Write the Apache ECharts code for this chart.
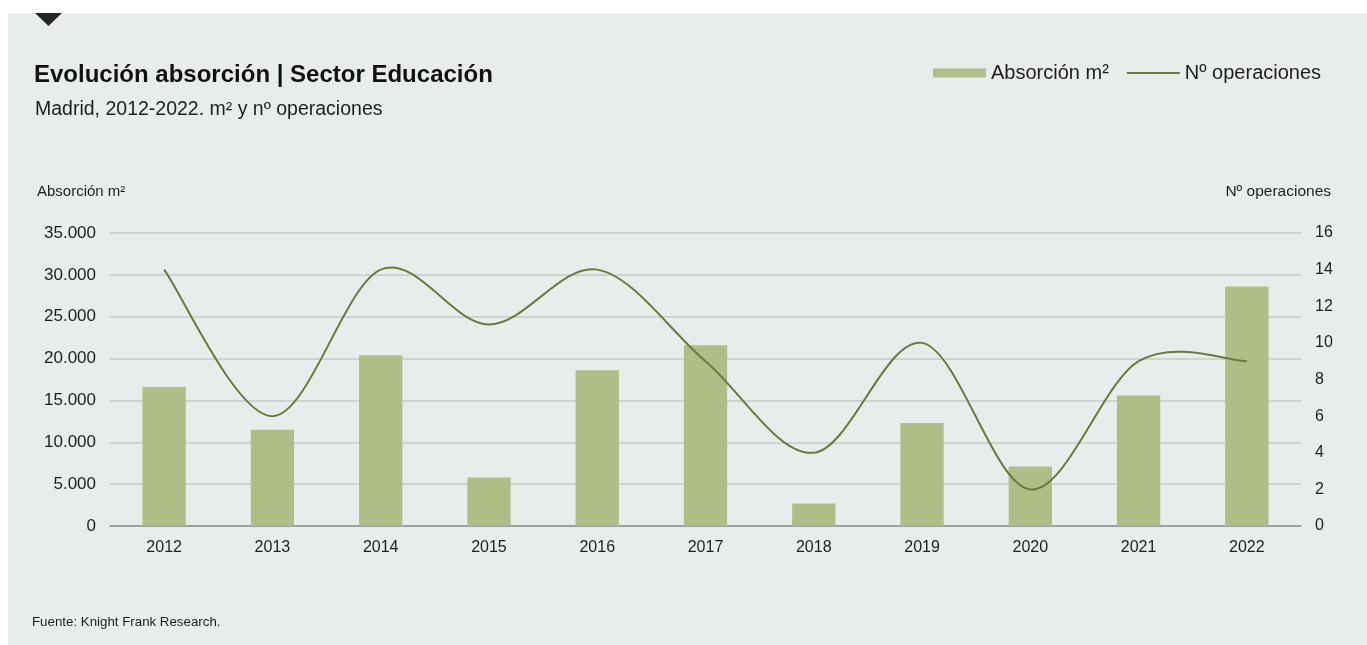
<!DOCTYPE html>
<html>
<head>
<meta charset="utf-8">
<title>Evolución absorción | Sector Educación</title>
<script src="https://cdn.jsdelivr.net/npm/echarts@6/dist/echarts.min.js"></script>
<style>
  html, body { margin: 0; padding: 0; background: #ffffff; }
  #chart { width: 1367px; height: 645px; }
</style>
</head>
<body>
<div id="chart"></div>
<script>
// Años de la serie
const years = ['2012', '2013', '2014', '2015', '2016', '2017', '2018', '2019', '2020', '2021', '2022'];
// Absorción anual en m²
const absorcion = [16600, 11500, 20400, 5800, 18600, 21600, 2700, 12300, 7100, 15600, 28600];
// Número de operaciones por año
const operaciones = [14, 6, 14, 11, 14, 9, 4, 10, 2, 9, 9];

const FONT = '"Liberation Sans", Arial, sans-serif';
const TEXT = '#1e1e1e';
const BAR = '#b0bd87';
const LINE = '#6a7a3a';

// 35000 -> "35.000"
function miles(v) {
  return String(v).replace(/\B(?=(\d{3})+(?!\d))/g, '.');
}

// Curva suavizada tipo spline cardinal: cada punto dibuja el tramo hasta el siguiente,
// con puntos de control a 1/6 de la cuerda entre sus vecinos.
function renderTramo(params, api) {
  const i = params.dataIndex;
  const n = operaciones.length;
  if (i >= n - 1) return null;
  const p = k => {
    const j = Math.max(0, Math.min(n - 1, k));
    return api.coord([j, operaciones[j]]);
  };
  const p0 = p(i - 1), p1 = p(i), p2 = p(i + 1), p3 = p(i + 2);
  return {
    type: 'bezierCurve',
    shape: {
      x1: p1[0], y1: p1[1],
      cpx1: p1[0] + (p2[0] - p0[0]) / 6, cpy1: p1[1] + (p2[1] - p0[1]) / 6,
      cpx2: p2[0] - (p3[0] - p1[0]) / 6, cpy2: p2[1] - (p3[1] - p1[1]) / 6,
      x2: p2[0], y2: p2[1]
    },
    style: { stroke: LINE, lineWidth: 2, fill: null },
    silent: true
  };
}

const chart = echarts.init(document.getElementById('chart'), null, { renderer: 'canvas' });

chart.setOption({
  animation: false,
  backgroundColor: '#ffffff',
  graphic: [
    { type: 'rect', z: -10, silent: true,
      shape: { x: 8, y: 13, width: 1359, height: 632 },
      style: { fill: '#e8edeb' } },
    { type: 'polygon', silent: true,
      shape: { points: [[35, 13], [62, 13], [48.5, 26]] },
      style: { fill: '#262626' } },
    { type: 'text', left: 37, top: 184, silent: true,
      style: { text: 'Absorción m²', font: '15px ' + FONT, fill: TEXT } },
    { type: 'text', right: 36, top: 184, silent: true,
      style: { text: 'Nº operaciones', font: '15.5px ' + FONT, fill: TEXT, align: 'right' } },
    { type: 'text', left: 32, top: 616, silent: true,
      style: { text: 'Fuente: Knight Frank Research.', font: '13.3px ' + FONT, fill: TEXT } }
  ],
  title: [
    { text: 'Evolución absorción | Sector Educación', left: 34, top: 63, padding: 0,
      textStyle: { fontFamily: FONT, fontSize: 24, fontWeight: 'bold', color: '#111' } },
    { text: 'Madrid, 2012-2022. m² y nº operaciones', left: 35, top: 100, padding: 0,
      textStyle: { fontFamily: FONT, fontSize: 19.5, fontWeight: 'normal', color: TEXT } }
  ],
  legend: {
    left: 933, top: 63, padding: 0,
    itemWidth: 53, itemHeight: 9, itemGap: 18,
    textStyle: { fontFamily: FONT, fontSize: 20, color: TEXT },
    data: [
      { name: 'Absorción m²', icon: 'rect', itemStyle: { color: BAR } },
      { name: 'Nº operaciones', icon: 'path://M0,0H53V2H0Z', itemStyle: { color: LINE } }
    ]
  },
  grid: { left: 110, right: 66, top: 233, bottom: 119 },
  xAxis: {
    type: 'category',
    data: years,
    axisTick: { show: false },
    axisLine: { lineStyle: { color: '#8f918f', width: 1.5 } },
    axisLabel: { margin: 14, fontFamily: FONT, fontSize: 16, color: TEXT }
  },
  yAxis: [
    {
      type: 'value', min: 0, max: 35000, interval: 5000,
      axisLine: { show: false }, axisTick: { show: false },
      splitLine: { lineStyle: { color: '#c6c9c7', width: 1.5 } },
      axisLabel: { margin: 14, fontFamily: FONT, fontSize: 17, color: TEXT, formatter: miles }
    },
    {
      type: 'value', min: 0, max: 16, interval: 2,
      axisLine: { show: false }, axisTick: { show: false },
      splitLine: { show: false },
      axisLabel: { margin: 14, fontFamily: FONT, fontSize: 16, color: TEXT }
    }
  ],
  series: [
    {
      name: 'Absorción m²', type: 'bar', yAxisIndex: 0,
      data: absorcion, barWidth: '40%',
      itemStyle: { color: BAR }
    },
    {
      name: 'Nº operaciones', type: 'custom', yAxisIndex: 1,
      data: operaciones.map((v, i) => [i, v]),
      encode: { x: 0, y: 1 },
      renderItem: renderTramo,
      itemStyle: { color: LINE },
      z: 3
    }
  ]
});
</script>
</body>
</html>
